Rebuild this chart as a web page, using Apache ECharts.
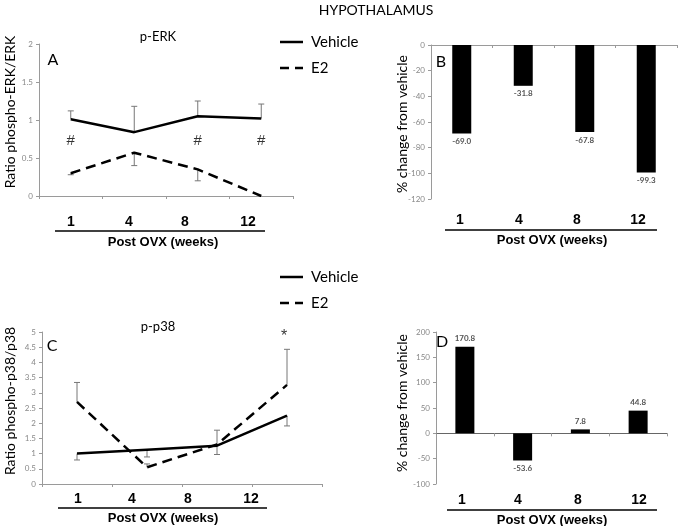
<!DOCTYPE html>
<html><head><meta charset="utf-8">
<script src="https://cdn.jsdelivr.net/npm/echarts@6/dist/echarts.min.js"></script>
<style>html,body{margin:0;padding:0;background:#fff}#c{width:678px;height:526px}</style>
</head><body><div id="c"></div>
<script>
const weeks = ['1', '4', '8', '12'];
const seriesNames = ['Vehicle', 'E2'];
// Panel A: p-ERK ratio
const erkVehicle = [1.01, 0.84, 1.05, 1.02];
const erkVehicleErr = [1.12, 1.18, 1.25, 1.21];
const erkE2 = [0.30, 0.57, 0.35, 0.00];
const erkE2Err = [0.28, 0.40, 0.20, null];
const erkSig = [0.72, null, 0.72, 0.72];
// Panel B: % change p-ERK
const erkChange = [-69.0, -31.8, -67.8, -99.3];
// Panel C: p-p38 ratio
const p38Vehicle = [1.00, 1.13, 1.26, 2.25];
const p38VehicleErr = [0.79, 0.89, 0.97, 1.91];
const p38E2 = [2.70, 0.55, 1.30, 3.26];
const p38E2Err = [3.34, 0.66, 1.77, 4.43];
const p38Sig = [null, null, null, 4.93];
// Panel D: % change p-p38
const p38Change = [170.8, -53.6, 7.8, 44.8];

const FONT = 'Lato';
const ARIAL = 'Liberation Sans';

const chart = echarts.init(document.getElementById('c'), null, {renderer: 'canvas'});

function errRender(params, api) {
  const i = api.value(0), v = api.value(1), e = api.value(2);
  if (e == null || isNaN(e)) return;
  const p0 = api.coord([i, v]);
  const p1 = api.coord([i, e]);
  const w = 3;
  return {type: 'group', children: [
    {type: 'line', shape: {x1: p0[0], y1: p0[1], x2: p1[0], y2: p1[1]}, style: {stroke: '#777', lineWidth: 1}},
    {type: 'line', shape: {x1: p1[0] - w, y1: p1[1], x2: p1[0] + w, y2: p1[1]}, style: {stroke: '#777', lineWidth: 1}}
  ]};
}
function errData(vals, errs) {
  return vals.map((v, i) => [i, v, errs[i] == null ? NaN : errs[i]]);
}
function sigData(vals) {
  const out = [];
  vals.forEach((v, i) => { if (v != null) out.push([i, v]); });
  return out;
}

const axisLine = {lineStyle: {color: '#9a9a9a', width: 1}};
const yLabel = {color: '#888', fontSize: 8, fontFamily: FONT, margin: 6};

function xCat(gi, extra) {
  return Object.assign({
    type: 'category', gridIndex: gi, data: weeks, boundaryGap: true,
    axisLine: axisLine, axisTick: {show: true, length: 3, lineStyle: {color: '#9a9a9a'}},
    axisLabel: {show: false}, splitLine: {show: false}
  }, extra || {});
}
function yVal(gi, min, max, interval) {
  return {
    type: 'value', gridIndex: gi, min: min, max: max, interval: interval,
    axisLine: {show: true, lineStyle: {color: '#9a9a9a', width: 1}},
    axisTick: {show: true, length: 3, lineStyle: {color: '#9a9a9a'}},
    axisLabel: yLabel, splitLine: {show: false}
  };
}

const lineSolid = {color: '#000', width: 2.5, type: 'solid'};
const lineDash = {color: '#000', width: 2.5, type: [10, 6]};

function textG(text, x, y, size, opts) {
  return Object.assign({
    type: 'text', x: x, y: y,
    style: Object.assign({text: text, fontFamily: FONT, fontSize: size, fill: '#000', align: 'center', verticalAlign: 'middle'}, (opts && opts.style) || {})
  }, (opts && opts.el) || {});
}
function vText(text, x, y, size) {
  return {type: 'text', x: x, y: y, rotation: Math.PI / 2,
    style: {text: text, fontFamily: FONT, fontSize: size, fill: '#000', align: 'center', verticalAlign: 'middle'}};
}
function uLine(x1, x2, y) {
  return {type: 'line', shape: {x1: x1, y1: y, x2: x2, y2: y}, style: {stroke: '#000', lineWidth: 1.5}};
}
function weekTexts(xs, y) {
  return weeks.map((w, i) => textG(w, xs[i], y, 14, {style: {fontFamily: ARIAL, fontWeight: 'bold'}}));
}
function legendG(x, y) {
  const out = [];
  seriesNames.forEach((n, i) => {
    const yy = y + i * 26;
    out.push({type: 'line', shape: {x1: x, y1: yy, x2: x + 23, y2: yy},
      style: {stroke: '#000', lineWidth: 2.5, lineDash: i === 0 ? null : [9, 6]}});
    out.push({type: 'text', x: x + 31, y: yy,
      style: {text: n, fontFamily: FONT, fontSize: 15, fill: '#000', align: 'left', verticalAlign: 'middle'}});
  });
  return out;
}

const graphics = [
  textG('HYPOTHALAMUS', 376, 10, 14),
  textG('p-ERK', 158, 37, 13),
  textG('A', 53, 60, 16),
  textG('B', 441, 62, 16),
  textG('p-p38', 158, 327, 13),
  textG('C', 52, 346, 16),
  textG('D', 442, 342, 16),
  vText('Ratio phospho-ERK/ERK', 10, 112, 14),
  vText('% change from vehicle', 402, 124, 14),
  vText('Ratio phospho-p38/p38', 10, 401, 14),
  vText('% change from vehicle', 402, 403, 14),
  uLine(55, 265, 231),
  uLine(445, 657, 230),
  uLine(58, 267, 508),
  uLine(447, 657, 510),
  textG('Post OVX (weeks)', 163, 242, 13, {style: {fontFamily: ARIAL, fontWeight: 'bold'}}),
  textG('Post OVX (weeks)', 552, 240, 13, {style: {fontFamily: ARIAL, fontWeight: 'bold'}}),
  textG('Post OVX (weeks)', 163, 518, 13, {style: {fontFamily: ARIAL, fontWeight: 'bold'}}),
  textG('Post OVX (weeks)', 552, 520, 13, {style: {fontFamily: ARIAL, fontWeight: 'bold'}})
].concat(
  weekTexts([71, 129, 185, 248], 222),
  weekTexts([460, 519, 577, 638], 220),
  weekTexts([78, 132, 188, 251], 499),
  weekTexts([462, 518, 578, 639], 500),
  legendG(280, 42),
  legendG(280, 277)
);

const barLabel = {show: true, fontSize: 8, color: '#555', fontFamily: FONT, fontWeight: 'bold', distance: 4,
  formatter: p => p.value.toFixed(1)};

const option = {
  animation: false,
  backgroundColor: '#fff',
  grid: [
    {left: 39, top: 44, width: 254, height: 152},
    {left: 431, top: 45, width: 246, height: 154},
    {left: 42, top: 332, width: 280, height: 152},
    {left: 436, top: 332, width: 231, height: 152}
  ],
  xAxis: [
    xCat(0),
    xCat(1, {axisLine: {onZero: true, lineStyle: {color: '#9a9a9a'}}}),
    xCat(2),
    xCat(3, {axisLine: {onZero: true, lineStyle: {color: '#666'}}})
  ],
  yAxis: [
    yVal(0, 0, 2, 0.5),
    yVal(1, -120, 0, 20),
    yVal(2, 0, 5, 0.5),
    yVal(3, -100, 200, 50)
  ],
  series: [
    {type: 'custom', xAxisIndex: 0, yAxisIndex: 0, renderItem: errRender, data: errData(erkVehicle, erkVehicleErr), encode: {x: 0, y: 1}, z: 1, silent: true},
    {type: 'custom', xAxisIndex: 0, yAxisIndex: 0, renderItem: errRender, data: errData(erkE2, erkE2Err), encode: {x: 0, y: 1}, z: 1, silent: true},
    {name: seriesNames[0], type: 'line', xAxisIndex: 0, yAxisIndex: 0, data: erkVehicle, symbol: 'none', lineStyle: lineSolid, itemStyle: {color: '#000'}, z: 3},
    {name: seriesNames[1], type: 'line', xAxisIndex: 0, yAxisIndex: 0, data: erkE2, symbol: 'none', lineStyle: lineDash, itemStyle: {color: '#000'}, z: 3},
    {type: 'scatter', xAxisIndex: 0, yAxisIndex: 0, data: sigData(erkSig), symbolSize: 1, itemStyle: {color: 'rgba(0,0,0,0)'},
      label: {show: true, position: 'inside', formatter: '#', fontSize: 15, color: '#000', fontFamily: ARIAL}},
    {type: 'bar', xAxisIndex: 1, yAxisIndex: 1, data: erkChange, barWidth: 19, itemStyle: {color: '#000'},
      label: Object.assign({position: 'bottom'}, barLabel)},
    {type: 'custom', xAxisIndex: 2, yAxisIndex: 2, renderItem: errRender, data: errData(p38Vehicle, p38VehicleErr), encode: {x: 0, y: 1}, z: 1, silent: true},
    {type: 'custom', xAxisIndex: 2, yAxisIndex: 2, renderItem: errRender, data: errData(p38E2, p38E2Err), encode: {x: 0, y: 1}, z: 1, silent: true},
    {name: seriesNames[0], type: 'line', xAxisIndex: 2, yAxisIndex: 2, data: p38Vehicle, symbol: 'none', lineStyle: lineSolid, itemStyle: {color: '#000'}, z: 3},
    {name: seriesNames[1], type: 'line', xAxisIndex: 2, yAxisIndex: 2, data: p38E2, symbol: 'none', lineStyle: lineDash, itemStyle: {color: '#000'}, z: 3},
    {type: 'scatter', xAxisIndex: 2, yAxisIndex: 2, data: sigData(p38Sig), symbolSize: 1, itemStyle: {color: 'rgba(0,0,0,0)'},
      label: {show: true, position: 'inside', formatter: '*', fontSize: 16, color: '#000', fontFamily: ARIAL, offset: [-3, 2]}},
    {type: 'bar', xAxisIndex: 3, yAxisIndex: 3, barWidth: 19, itemStyle: {color: '#000'},
      data: p38Change.map(v => ({value: v, label: {position: v < 0 ? 'bottom' : 'top'}})),
      label: barLabel}
  ],
  graphic: graphics
};
chart.setOption(option);
</script>
</body></html>
